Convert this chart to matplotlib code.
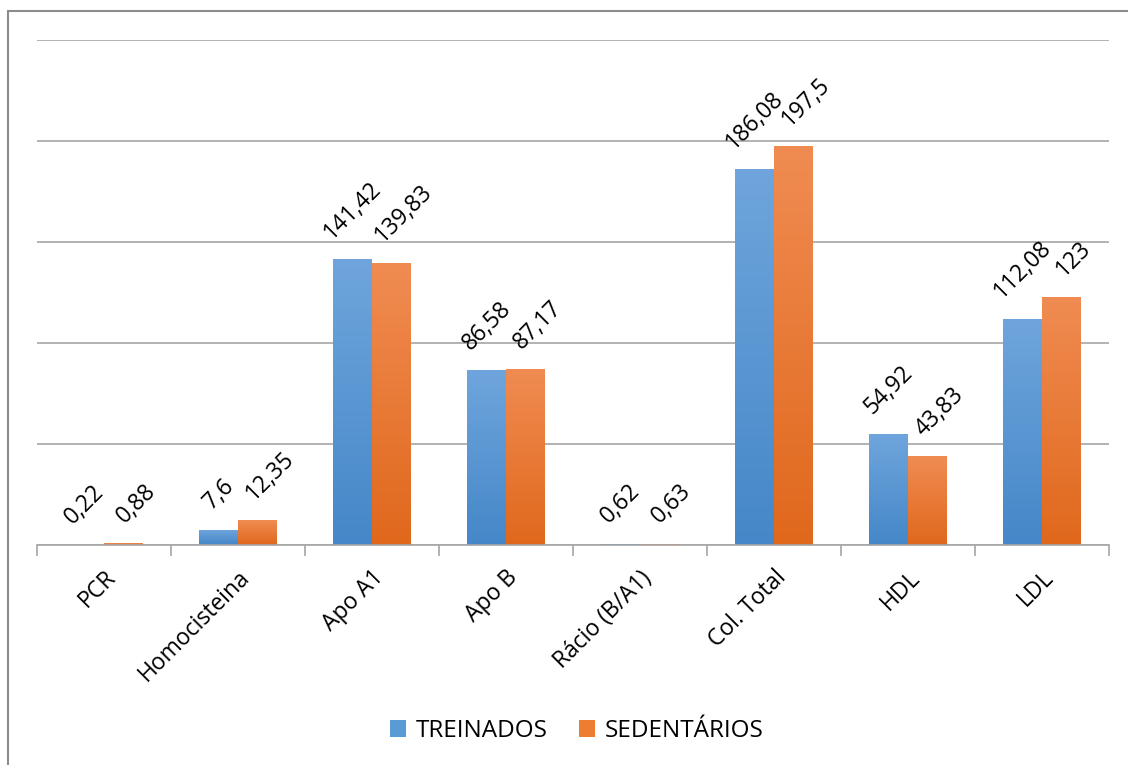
import numpy as np
import matplotlib
matplotlib.use('Agg')
import matplotlib.pyplot as plt
from matplotlib.patches import Rectangle
from matplotlib.colors import LinearSegmentedColormap

plt.rcParams['font.family'] = ['Open Sans', 'DejaVu Sans']

categories = ['PCR', 'Homocisteina', 'Apo A1', 'Apo B', 'Rácio (B/A1)', 'Col. Total', 'HDL', 'LDL']
treinados = [0.22, 7.6, 141.42, 86.58, 0.62, 186.08, 54.92, 112.08]
sedentarios = [0.88, 12.35, 139.83, 87.17, 0.63, 197.5, 43.83, 123]
labels_t = ['0,22', '7,6', '141,42', '86,58', '0,62', '186,08', '54,92', '112,08']
labels_s = ['0,88', '12,35', '139,83', '87,17', '0,63', '197,5', '43,83', '123']

fig = plt.figure(figsize=(11.28, 7.65), dpi=100)
ax = fig.add_axes([0.0328, 0.2876, 0.9504, 0.6601])

x = np.arange(len(categories))
w = 0.29
bars_t = ax.bar(x - w / 2, treinados, w, color='#5b9bd5', label='TREINADOS', zorder=2)
bars_s = ax.bar(x + w / 2, sedentarios, w, color='#ed7d31', label='SEDENTÁRIOS', zorder=2)

# gradient fill like the spreadsheet original
cm_t = LinearSegmentedColormap.from_list('t', ['#4587c8', '#6fa5dc'])
cm_s = LinearSegmentedColormap.from_list('s', ['#e0681c', '#f08c52'])
grad = np.linspace(0, 1, 256).reshape(-1, 1)
for bars, cm in ((bars_t, cm_t), (bars_s, cm_s)):
    for b in bars:
        x0, y0 = b.get_x(), b.get_y()
        bw, bh = b.get_width(), b.get_height()
        if bh <= 0:
            continue
        im = ax.imshow(grad, cmap=cm, origin='lower', aspect='auto',
                       extent=(x0, x0 + bw, y0, y0 + bh), zorder=2.5)
        im.set_clip_path(b)

# value labels, the second series sits a little to the right
for bars, labs, dx in ((bars_t, labels_t, 0), (bars_s, labels_s, 9)):
    for b, lab in zip(bars, labs):
        ax.annotate(lab, (b.get_x() + b.get_width() / 2, b.get_height()),
                    xytext=(dx, 11), textcoords='offset points',
                    rotation=45, ha='center', va='bottom', fontsize=16.5, color='black')

ax.set_xlim(-0.5, len(categories) - 0.5)
ax.set_ylim(0, 250)
ax.set_yticks([0, 50, 100, 150, 200, 250])
ax.yaxis.grid(True, color='#a6a6a6', linewidth=1.2, zorder=0)
ax.tick_params(axis='y', left=False, labelleft=False)
for s in ['top', 'right', 'left']:
    ax.spines[s].set_visible(False)
ax.spines['bottom'].set_color('#a6a6a6')
ax.spines['bottom'].set_linewidth(1.2)

ax.set_xticks(np.arange(len(categories) + 1) - 0.5, minor=True)
ax.set_xticks(x)
ax.set_xticklabels(categories, rotation=45, ha='right', rotation_mode='anchor', fontsize=16.5)
ax.tick_params(axis='x', which='major', length=0, pad=15)
ax.tick_params(axis='x', which='minor', length=8, color='#a6a6a6', width=1.2)

ax.legend(loc='center', bbox_to_anchor=(577 / 1128, 1 - 731 / 765), bbox_transform=fig.transFigure,
          ncol=2, frameon=False, fontsize=17.5, handlelength=0.65, handleheight=0.65,
          columnspacing=1.3, handletextpad=0.4)

fig.add_artist(Rectangle((8 / 1128, -0.1), 1.2, 1.1 - 11 / 765, transform=fig.transFigure,
                         fill=False, edgecolor='#8c8c8c', linewidth=1.5))

fig.savefig('out.png', dpi=100)
